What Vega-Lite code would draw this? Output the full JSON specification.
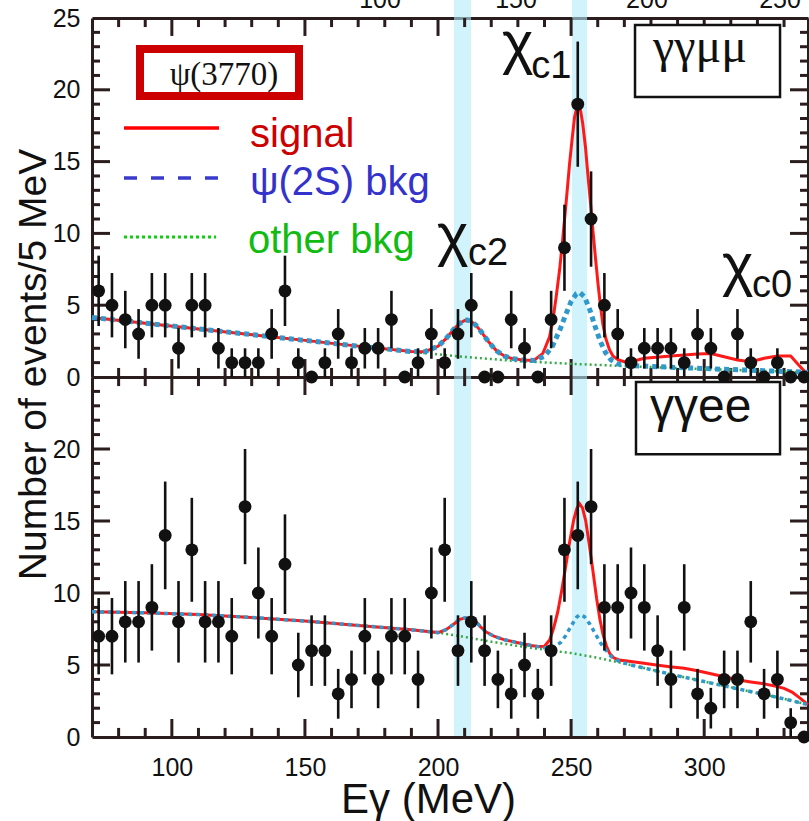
{
  "$schema": "https://vega.github.io/schema/vega-lite/v6.json",
  "width": 716,
  "height": 719,
  "autosize": {"type": "none"},
  "padding": {"left": 92, "top": 18, "right": 1, "bottom": 84},
  "background": "white",
  "config": {
    "view": {"stroke": null},
    "axis": {"grid": false, "ticks": false, "tickSize": 0, "domainColor": "#2b1d1d", "domainWidth": 3, "labelFont": "Liberation Sans", "labelFontSize": 25, "labelColor": "#111111", "labelOverlap": false, "labelFlush": false, "titleFont": "Liberation Sans", "titleFontWeight": "normal", "titleColor": "#111111"}
  },
  "datasets": {
    "bands": [{"a": 206.0, "b": 212.4}, {"a": 250.3, "b": 256.0}],
    "xmaj": [{"v": 100}, {"v": 150}, {"v": 200}, {"v": 250}, {"v": 300}],
    "xmin": [{"v": 80}, {"v": 90}, {"v": 110}, {"v": 120}, {"v": 130}, {"v": 140}, {"v": 160}, {"v": 170}, {"v": 180}, {"v": 190}, {"v": 210}, {"v": 220}, {"v": 230}, {"v": 240}, {"v": 260}, {"v": 270}, {"v": 280}, {"v": 290}, {"v": 310}, {"v": 320}, {"v": 330}],
    "ymaj": [{"v": 5}, {"v": 10}, {"v": 15}, {"v": 20}],
    "ymin": [{"v": 1}, {"v": 2}, {"v": 3}, {"v": 4}, {"v": 6}, {"v": 7}, {"v": 8}, {"v": 9}, {"v": 11}, {"v": 12}, {"v": 13}, {"v": 14}, {"v": 16}, {"v": 17}, {"v": 18}, {"v": 19}, {"v": 21}, {"v": 22}, {"v": 23}, {"v": 24}],
    "top": [
      {"E": 72.5, "n": 6, "lo": 3.55, "hi": 8.45}, {"E": 77.5, "n": 5, "lo": 2.76, "hi": 7.24}, {"E": 82.5, "n": 4, "lo": 2, "hi": 6}, {"E": 87.5, "n": 3, "lo": 1.27, "hi": 4.73},
      {"E": 92.5, "n": 5, "lo": 2.76, "hi": 7.24}, {"E": 97.5, "n": 5, "lo": 2.76, "hi": 7.24}, {"E": 102.5, "n": 2, "lo": 0.59, "hi": 3.41}, {"E": 107.5, "n": 5, "lo": 2.76, "hi": 7.24},
      {"E": 112.5, "n": 5, "lo": 2.76, "hi": 7.24}, {"E": 117.5, "n": 2, "lo": 0.59, "hi": 3.41}, {"E": 122.5, "n": 1, "lo": 0, "hi": 2}, {"E": 127.5, "n": 1, "lo": 0, "hi": 2},
      {"E": 132.5, "n": 1, "lo": 0, "hi": 2}, {"E": 137.5, "n": 3, "lo": 1.27, "hi": 4.73}, {"E": 142.5, "n": 6, "lo": 3.55, "hi": 8.45}, {"E": 147.5, "n": 1, "lo": 0, "hi": 2},
      {"E": 152.5, "n": 0, "lo": 0, "hi": 0}, {"E": 157.5, "n": 1, "lo": 0, "hi": 2}, {"E": 162.5, "n": 3, "lo": 1.27, "hi": 4.73}, {"E": 167.5, "n": 1, "lo": 0, "hi": 2},
      {"E": 172.5, "n": 2, "lo": 0.59, "hi": 3.41}, {"E": 177.5, "n": 2, "lo": 0.59, "hi": 3.41}, {"E": 182.5, "n": 4, "lo": 2, "hi": 6}, {"E": 187.5, "n": 0, "lo": 0, "hi": 0},
      {"E": 192.5, "n": 1, "lo": 0, "hi": 2}, {"E": 197.5, "n": 3, "lo": 1.27, "hi": 4.73}, {"E": 202.5, "n": 1, "lo": 0, "hi": 2}, {"E": 207.5, "n": 3, "lo": 1.27, "hi": 4.73},
      {"E": 212.5, "n": 5, "lo": 2.76, "hi": 7.24}, {"E": 217.5, "n": 0, "lo": 0, "hi": 0}, {"E": 222.5, "n": 0, "lo": 0, "hi": 0}, {"E": 227.5, "n": 4, "lo": 2, "hi": 6},
      {"E": 232.5, "n": 2, "lo": 0.59, "hi": 3.41}, {"E": 237.5, "n": 0, "lo": 0, "hi": 0}, {"E": 242.5, "n": 4, "lo": 2, "hi": 6}, {"E": 247.5, "n": 9, "lo": 6, "hi": 12},
      {"E": 252.5, "n": 19, "lo": 14.64, "hi": 23.36}, {"E": 257.5, "n": 11, "lo": 7.68, "hi": 14.32}, {"E": 262.5, "n": 5, "lo": 2.76, "hi": 7.24}, {"E": 267.5, "n": 3, "lo": 1.27, "hi": 4.73},
      {"E": 272.5, "n": 1, "lo": 0, "hi": 2}, {"E": 277.5, "n": 2, "lo": 0.59, "hi": 3.41}, {"E": 282.5, "n": 2, "lo": 0.59, "hi": 3.41}, {"E": 287.5, "n": 2, "lo": 0.59, "hi": 3.41},
      {"E": 292.5, "n": 1, "lo": 0, "hi": 2}, {"E": 297.5, "n": 3, "lo": 1.27, "hi": 4.73}, {"E": 302.5, "n": 2, "lo": 0.59, "hi": 3.41}, {"E": 307.5, "n": 0, "lo": 0, "hi": 0},
      {"E": 312.5, "n": 3, "lo": 1.27, "hi": 4.73}, {"E": 317.5, "n": 1, "lo": 0, "hi": 2}, {"E": 322.5, "n": 0, "lo": 0, "hi": 0}, {"E": 327.5, "n": 1, "lo": 0, "hi": 2},
      {"E": 332.5, "n": 0, "lo": 0, "hi": 0}, {"E": 337.5, "n": 0, "lo": 0, "hi": 0}
    ],
    "bot": [
      {"E": 72.5, "n": 7, "lo": 4.35, "hi": 9.65}, {"E": 77.5, "n": 7, "lo": 4.35, "hi": 9.65}, {"E": 82.5, "n": 8, "lo": 5.17, "hi": 10.83}, {"E": 87.5, "n": 8, "lo": 5.17, "hi": 10.83},
      {"E": 92.5, "n": 9, "lo": 6, "hi": 12}, {"E": 97.5, "n": 14, "lo": 10.26, "hi": 17.74}, {"E": 102.5, "n": 8, "lo": 5.17, "hi": 10.83}, {"E": 107.5, "n": 13, "lo": 9.39, "hi": 16.61},
      {"E": 112.5, "n": 8, "lo": 5.17, "hi": 10.83}, {"E": 117.5, "n": 8, "lo": 5.17, "hi": 10.83}, {"E": 122.5, "n": 7, "lo": 4.35, "hi": 9.65}, {"E": 127.5, "n": 16, "lo": 12, "hi": 20},
      {"E": 132.5, "n": 10, "lo": 6.84, "hi": 13.16}, {"E": 137.5, "n": 7, "lo": 4.35, "hi": 9.65}, {"E": 142.5, "n": 12, "lo": 8.54, "hi": 15.46}, {"E": 147.5, "n": 5, "lo": 2.76, "hi": 7.24},
      {"E": 152.5, "n": 6, "lo": 3.55, "hi": 8.45}, {"E": 157.5, "n": 6, "lo": 3.55, "hi": 8.45}, {"E": 162.5, "n": 3, "lo": 1.27, "hi": 4.73}, {"E": 167.5, "n": 4, "lo": 2, "hi": 6},
      {"E": 172.5, "n": 7, "lo": 4.35, "hi": 9.65}, {"E": 177.5, "n": 4, "lo": 2, "hi": 6}, {"E": 182.5, "n": 7, "lo": 4.35, "hi": 9.65}, {"E": 187.5, "n": 7, "lo": 4.35, "hi": 9.65},
      {"E": 192.5, "n": 4, "lo": 2, "hi": 6}, {"E": 197.5, "n": 10, "lo": 6.84, "hi": 13.16}, {"E": 202.5, "n": 13, "lo": 9.39, "hi": 16.61}, {"E": 207.5, "n": 6, "lo": 3.55, "hi": 8.45},
      {"E": 212.5, "n": 8, "lo": 5.17, "hi": 10.83}, {"E": 217.5, "n": 6, "lo": 3.55, "hi": 8.45}, {"E": 222.5, "n": 4, "lo": 2, "hi": 6}, {"E": 227.5, "n": 3, "lo": 1.27, "hi": 4.73},
      {"E": 232.5, "n": 5, "lo": 2.76, "hi": 7.24}, {"E": 237.5, "n": 3, "lo": 1.27, "hi": 4.73}, {"E": 242.5, "n": 6, "lo": 3.55, "hi": 8.45}, {"E": 247.5, "n": 13, "lo": 9.39, "hi": 16.61},
      {"E": 252.5, "n": 14, "lo": 10.26, "hi": 17.74}, {"E": 257.5, "n": 16, "lo": 12, "hi": 20}, {"E": 262.5, "n": 9, "lo": 6, "hi": 12}, {"E": 267.5, "n": 9, "lo": 6, "hi": 12},
      {"E": 272.5, "n": 10, "lo": 6.84, "hi": 13.16}, {"E": 277.5, "n": 9, "lo": 6, "hi": 12}, {"E": 282.5, "n": 6, "lo": 3.55, "hi": 8.45}, {"E": 287.5, "n": 4, "lo": 2, "hi": 6},
      {"E": 292.5, "n": 9, "lo": 6, "hi": 12}, {"E": 297.5, "n": 3, "lo": 1.27, "hi": 4.73}, {"E": 302.5, "n": 2, "lo": 0.59, "hi": 3.41}, {"E": 307.5, "n": 4, "lo": 2, "hi": 6},
      {"E": 312.5, "n": 4, "lo": 2, "hi": 6}, {"E": 317.5, "n": 8, "lo": 5.17, "hi": 10.83}, {"E": 322.5, "n": 3, "lo": 1.27, "hi": 4.73}, {"E": 327.5, "n": 4, "lo": 2, "hi": 6},
      {"E": 332.5, "n": 1, "lo": 0, "hi": 2}, {"E": 337.5, "n": 0, "lo": 0, "hi": 0}
    ],
    "ctop": [
      {"s": "oth", "E": 70, "v": 4.15}, {"s": "oth", "E": 90, "v": 3.75}, {"s": "oth", "E": 110, "v": 3.35}, {"s": "oth", "E": 130, "v": 2.95}, {"s": "oth", "E": 150, "v": 2.55}, {"s": "oth", "E": 170, "v": 2.15}, {"s": "oth", "E": 190, "v": 1.75}, {"s": "oth", "E": 210, "v": 1.4}, {"s": "oth", "E": 230, "v": 1.1}, {"s": "oth", "E": 250, "v": 0.92}, {"s": "oth", "E": 270, "v": 0.76}, {"s": "oth", "E": 290, "v": 0.62}, {"s": "oth", "E": 310, "v": 0.5}, {"s": "oth", "E": 339, "v": 0.32},
      {"s": "psi", "E": 70, "v": 4.15}, {"s": "psi", "E": 90, "v": 3.75}, {"s": "psi", "E": 110, "v": 3.35}, {"s": "psi", "E": 130, "v": 2.95}, {"s": "psi", "E": 150, "v": 2.55}, {"s": "psi", "E": 170, "v": 2.15}, {"s": "psi", "E": 190, "v": 1.77}, {"s": "psi", "E": 195, "v": 1.76}, {"s": "psi", "E": 200, "v": 2.14}, {"s": "psi", "E": 203, "v": 2.67}, {"s": "psi", "E": 206, "v": 3.34}, {"s": "psi", "E": 208, "v": 3.72}, {"s": "psi", "E": 210, "v": 3.94}, {"s": "psi", "E": 211, "v": 3.96}, {"s": "psi", "E": 212, "v": 3.92}, {"s": "psi", "E": 214, "v": 3.65}, {"s": "psi", "E": 216, "v": 3.21}, {"s": "psi", "E": 219, "v": 2.45}, {"s": "psi", "E": 222, "v": 1.82}, {"s": "psi", "E": 225, "v": 1.45}, {"s": "psi", "E": 228, "v": 1.28}, {"s": "psi", "E": 232, "v": 1.18}, {"s": "psi", "E": 236, "v": 1.15}, {"s": "psi", "E": 240, "v": 1.44}, {"s": "psi", "E": 243, "v": 2.15}, {"s": "psi", "E": 246, "v": 3.38}, {"s": "psi", "E": 248, "v": 4.36}, {"s": "psi", "E": 250, "v": 5.26}, {"s": "psi", "E": 252, "v": 5.8}, {"s": "psi", "E": 253.2, "v": 5.9}, {"s": "psi", "E": 255, "v": 5.59}, {"s": "psi", "E": 257, "v": 4.7}, {"s": "psi", "E": 259, "v": 3.53}, {"s": "psi", "E": 261, "v": 2.46}, {"s": "psi", "E": 263, "v": 1.68}, {"s": "psi", "E": 265, "v": 1.19}, {"s": "psi", "E": 268, "v": 0.88}, {"s": "psi", "E": 272, "v": 0.8}, {"s": "psi", "E": 290, "v": 0.66}, {"s": "psi", "E": 310, "v": 0.52}, {"s": "psi", "E": 339, "v": 0.33},
      {"s": "sig", "E": 70, "v": 4.15}, {"s": "sig", "E": 90, "v": 3.75}, {"s": "sig", "E": 110, "v": 3.35}, {"s": "sig", "E": 130, "v": 2.95}, {"s": "sig", "E": 150, "v": 2.55}, {"s": "sig", "E": 170, "v": 2.15}, {"s": "sig", "E": 190, "v": 1.77}, {"s": "sig", "E": 195, "v": 1.76}, {"s": "sig", "E": 200, "v": 2.14}, {"s": "sig", "E": 203, "v": 2.67}, {"s": "sig", "E": 206, "v": 3.34}, {"s": "sig", "E": 208, "v": 3.72}, {"s": "sig", "E": 210, "v": 3.94}, {"s": "sig", "E": 211, "v": 3.96}, {"s": "sig", "E": 212, "v": 3.92}, {"s": "sig", "E": 214, "v": 3.65}, {"s": "sig", "E": 216, "v": 3.21}, {"s": "sig", "E": 219, "v": 2.45}, {"s": "sig", "E": 222, "v": 1.82}, {"s": "sig", "E": 225, "v": 1.45}, {"s": "sig", "E": 228, "v": 1.28}, {"s": "sig", "E": 232, "v": 1.18}, {"s": "sig", "E": 236, "v": 1.15},
      {"s": "sig", "E": 239.4, "v": 1.65}, {"s": "sig", "E": 241.9, "v": 2.8}, {"s": "sig", "E": 243.2, "v": 4.0}, {"s": "sig", "E": 244.4, "v": 5.6}, {"s": "sig", "E": 245.7, "v": 7.5}, {"s": "sig", "E": 246.9, "v": 9.7}, {"s": "sig", "E": 248.2, "v": 12.3}, {"s": "sig", "E": 249.4, "v": 14.8}, {"s": "sig", "E": 250.4, "v": 16.6}, {"s": "sig", "E": 251.3, "v": 18.1}, {"s": "sig", "E": 252.1, "v": 18.7}, {"s": "sig", "E": 252.9, "v": 18.9}, {"s": "sig", "E": 253.6, "v": 18.5}, {"s": "sig", "E": 254.4, "v": 17.6}, {"s": "sig", "E": 255.4, "v": 16.0}, {"s": "sig", "E": 256.3, "v": 14.1}, {"s": "sig", "E": 257.3, "v": 12.1}, {"s": "sig", "E": 258.2, "v": 10.2}, {"s": "sig", "E": 259.2, "v": 8.2}, {"s": "sig", "E": 260.1, "v": 6.5}, {"s": "sig", "E": 261.0, "v": 5.0}, {"s": "sig", "E": 261.9, "v": 3.7}, {"s": "sig", "E": 263.0, "v": 2.7}, {"s": "sig", "E": 264.4, "v": 1.9}, {"s": "sig", "E": 265.8, "v": 1.45}, {"s": "sig", "E": 267.6, "v": 1.2}, {"s": "sig", "E": 270, "v": 1.06}, {"s": "sig", "E": 272.5, "v": 1.06}, {"s": "sig", "E": 277.5, "v": 1.3}, {"s": "sig", "E": 287.5, "v": 1.46}, {"s": "sig", "E": 297.5, "v": 1.6}, {"s": "sig", "E": 302.5, "v": 1.64}, {"s": "sig", "E": 307.5, "v": 1.41}, {"s": "sig", "E": 312.5, "v": 1.18}, {"s": "sig", "E": 317.5, "v": 1.06}, {"s": "sig", "E": 322.5, "v": 1.3}, {"s": "sig", "E": 327.5, "v": 1.46}, {"s": "sig", "E": 332.5, "v": 1.46}, {"s": "sig", "E": 335.5, "v": 0.83}, {"s": "sig", "E": 339, "v": 0.14}
    ],
    "cbot": [
      {"s": "oth", "E": 70, "v": 8.7}, {"s": "oth", "E": 90, "v": 8.62}, {"s": "oth", "E": 110, "v": 8.5}, {"s": "oth", "E": 130, "v": 8.3}, {"s": "oth", "E": 150, "v": 8.05}, {"s": "oth", "E": 170, "v": 7.75}, {"s": "oth", "E": 190, "v": 7.45}, {"s": "oth", "E": 200, "v": 7.25}, {"s": "oth", "E": 210, "v": 6.95}, {"s": "oth", "E": 220, "v": 6.62}, {"s": "oth", "E": 230, "v": 6.32}, {"s": "oth", "E": 240, "v": 6.06}, {"s": "oth", "E": 250, "v": 5.83}, {"s": "oth", "E": 260, "v": 5.5}, {"s": "oth", "E": 270, "v": 5.1}, {"s": "oth", "E": 280, "v": 4.68}, {"s": "oth", "E": 290, "v": 4.25}, {"s": "oth", "E": 300, "v": 3.85}, {"s": "oth", "E": 310, "v": 3.45}, {"s": "oth", "E": 320, "v": 3.05}, {"s": "oth", "E": 330, "v": 2.65}, {"s": "oth", "E": 339, "v": 2.25},
      {"s": "psi", "E": 70, "v": 8.7}, {"s": "psi", "E": 90, "v": 8.62}, {"s": "psi", "E": 110, "v": 8.5}, {"s": "psi", "E": 130, "v": 8.3}, {"s": "psi", "E": 150, "v": 8.05}, {"s": "psi", "E": 170, "v": 7.75}, {"s": "psi", "E": 190, "v": 7.45}, {"s": "psi", "E": 200, "v": 7.25}, {"s": "psi", "E": 203, "v": 7.45}, {"s": "psi", "E": 206, "v": 7.85}, {"s": "psi", "E": 208, "v": 8.15}, {"s": "psi", "E": 210, "v": 8.27}, {"s": "psi", "E": 212, "v": 8.27}, {"s": "psi", "E": 214, "v": 8.05}, {"s": "psi", "E": 216, "v": 7.65}, {"s": "psi", "E": 218, "v": 7.3}, {"s": "psi", "E": 221, "v": 7.0}, {"s": "psi", "E": 225, "v": 6.75}, {"s": "psi", "E": 230, "v": 6.55}, {"s": "psi", "E": 235, "v": 6.35}, {"s": "psi", "E": 240, "v": 6.2}, {"s": "psi", "E": 243, "v": 6.2}, {"s": "psi", "E": 246, "v": 6.55}, {"s": "psi", "E": 248, "v": 7.05}, {"s": "psi", "E": 250, "v": 7.7}, {"s": "psi", "E": 252, "v": 8.3}, {"s": "psi", "E": 253.2, "v": 8.5}, {"s": "psi", "E": 255, "v": 8.35}, {"s": "psi", "E": 257, "v": 7.85}, {"s": "psi", "E": 259, "v": 7.2}, {"s": "psi", "E": 261, "v": 6.55}, {"s": "psi", "E": 263, "v": 6.05}, {"s": "psi", "E": 265, "v": 5.6}, {"s": "psi", "E": 268, "v": 5.25}, {"s": "psi", "E": 272, "v": 5.02}, {"s": "psi", "E": 280, "v": 4.68}, {"s": "psi", "E": 290, "v": 4.25}, {"s": "psi", "E": 300, "v": 3.85}, {"s": "psi", "E": 310, "v": 3.45}, {"s": "psi", "E": 320, "v": 3.05}, {"s": "psi", "E": 330, "v": 2.65}, {"s": "psi", "E": 339, "v": 2.25},
      {"s": "sig", "E": 70, "v": 8.7}, {"s": "sig", "E": 90, "v": 8.62}, {"s": "sig", "E": 110, "v": 8.5}, {"s": "sig", "E": 130, "v": 8.3}, {"s": "sig", "E": 150, "v": 8.05}, {"s": "sig", "E": 170, "v": 7.75}, {"s": "sig", "E": 190, "v": 7.45}, {"s": "sig", "E": 200, "v": 7.25}, {"s": "sig", "E": 203, "v": 7.45}, {"s": "sig", "E": 206, "v": 7.85}, {"s": "sig", "E": 208, "v": 8.15}, {"s": "sig", "E": 210, "v": 8.27}, {"s": "sig", "E": 212, "v": 8.27}, {"s": "sig", "E": 214, "v": 8.05}, {"s": "sig", "E": 216, "v": 7.65}, {"s": "sig", "E": 218, "v": 7.3}, {"s": "sig", "E": 221, "v": 7.0}, {"s": "sig", "E": 225, "v": 6.75}, {"s": "sig", "E": 230, "v": 6.55}, {"s": "sig", "E": 235, "v": 6.35},
      {"s": "sig", "E": 237.5, "v": 6.28}, {"s": "sig", "E": 240, "v": 6.3}, {"s": "sig", "E": 242, "v": 6.75}, {"s": "sig", "E": 243.5, "v": 7.6}, {"s": "sig", "E": 245, "v": 8.7}, {"s": "sig", "E": 246.5, "v": 10.2}, {"s": "sig", "E": 248, "v": 11.9}, {"s": "sig", "E": 249.5, "v": 13.6}, {"s": "sig", "E": 251, "v": 15.1}, {"s": "sig", "E": 252.2, "v": 15.9}, {"s": "sig", "E": 253.2, "v": 16.2}, {"s": "sig", "E": 254.3, "v": 15.9}, {"s": "sig", "E": 255.5, "v": 15.0}, {"s": "sig", "E": 256.8, "v": 13.4}, {"s": "sig", "E": 258.3, "v": 11.4}, {"s": "sig", "E": 259.6, "v": 9.6}, {"s": "sig", "E": 260.8, "v": 8.2}, {"s": "sig", "E": 262, "v": 7.1}, {"s": "sig", "E": 263.3, "v": 6.3}, {"s": "sig", "E": 264.5, "v": 5.8}, {"s": "sig", "E": 266, "v": 5.5}, {"s": "sig", "E": 268, "v": 5.35}, {"s": "sig", "E": 271, "v": 5.28}, {"s": "sig", "E": 276, "v": 5.15}, {"s": "sig", "E": 282, "v": 5.0}, {"s": "sig", "E": 287, "v": 4.88}, {"s": "sig", "E": 292.5, "v": 4.78}, {"s": "sig", "E": 297.5, "v": 4.6}, {"s": "sig", "E": 302.5, "v": 4.39}, {"s": "sig", "E": 307.5, "v": 4.18}, {"s": "sig", "E": 312.5, "v": 3.97}, {"s": "sig", "E": 317.5, "v": 3.82}, {"s": "sig", "E": 322.5, "v": 3.69}, {"s": "sig", "E": 327, "v": 3.52}, {"s": "sig", "E": 330, "v": 3.38}, {"s": "sig", "E": 333, "v": 3.12}, {"s": "sig", "E": 336, "v": 2.7}, {"s": "sig", "E": 339, "v": 2.25}
    ]
  },
  "layer": [
    {
      "layer": [
        {"data": {"name": "bands"}, "mark": {"type": "rect", "fill": "#b3ebf9", "opacity": 0.6},
         "encoding": {"x": {"field": "a", "type": "quantitative", "scale": {"domain": [70, 339], "nice": false, "zero": false}, "axis": null}, "x2": {"field": "b"},
                      "y": {"datum": -25, "type": "quantitative", "scale": {"domain": [0, 25], "range": [359, 0], "nice": false, "zero": false}, "axis": null}, "y2": {"datum": 26.3}}},
        {"data": {"name": "xmaj"}, "mark": {"type": "rule", "stroke": "#2b1d1d", "strokeWidth": 3},
         "encoding": {"x": {"field": "v", "type": "quantitative", "scale": {"domain": [70, 339], "nice": false, "zero": false}, "axis": null},
                      "y": {"datum": 25, "type": "quantitative", "scale": {"domain": [0, 25], "range": [359, 0], "nice": false, "zero": false}, "axis": null}, "y2": {"datum": 23.75}}},
        {"data": {"name": "xmin"}, "mark": {"type": "rule", "stroke": "#2b1d1d", "strokeWidth": 3},
         "encoding": {"x": {"field": "v", "type": "quantitative", "scale": {"domain": [70, 339], "nice": false, "zero": false}, "axis": null},
                      "y": {"datum": 25, "type": "quantitative", "scale": {"domain": [0, 25], "range": [359, 0], "nice": false, "zero": false}, "axis": null}, "y2": {"datum": 24.37}}},
        {"data": {"name": "xmaj"}, "mark": {"type": "rule", "stroke": "#2b1d1d", "strokeWidth": 3},
         "encoding": {"x": {"field": "v", "type": "quantitative", "scale": {"domain": [70, 339], "nice": false, "zero": false}, "axis": null},
                      "y": {"datum": 0, "type": "quantitative", "scale": {"domain": [0, 25], "range": [359, 0], "nice": false, "zero": false}, "axis": null}, "y2": {"datum": 1.25}}},
        {"data": {"name": "xmin"}, "mark": {"type": "rule", "stroke": "#2b1d1d", "strokeWidth": 3},
         "encoding": {"x": {"field": "v", "type": "quantitative", "scale": {"domain": [70, 339], "nice": false, "zero": false}, "axis": null},
                      "y": {"datum": 0, "type": "quantitative", "scale": {"domain": [0, 25], "range": [359, 0], "nice": false, "zero": false}, "axis": null}, "y2": {"datum": 0.63}}},
        {"data": {"name": "ymaj"}, "mark": {"type": "rule", "stroke": "#2b1d1d", "strokeWidth": 3},
         "encoding": {"x": {"datum": 70, "type": "quantitative", "scale": {"domain": [70, 339], "nice": false, "zero": false}, "axis": null}, "x2": {"datum": 76.76},
                      "y": {"field": "v", "type": "quantitative", "scale": {"domain": [0, 25], "range": [359, 0], "nice": false, "zero": false}, "axis": null}}},
        {"data": {"name": "ymin"}, "mark": {"type": "rule", "stroke": "#2b1d1d", "strokeWidth": 3},
         "encoding": {"x": {"datum": 70, "type": "quantitative", "scale": {"domain": [70, 339], "nice": false, "zero": false}, "axis": null}, "x2": {"datum": 73.0},
                      "y": {"field": "v", "type": "quantitative", "scale": {"domain": [0, 25], "range": [359, 0], "nice": false, "zero": false}, "axis": null}}},
        {"data": {"name": "ymaj"}, "mark": {"type": "rule", "stroke": "#2b1d1d", "strokeWidth": 3},
         "encoding": {"x": {"datum": 339, "type": "quantitative", "scale": {"domain": [70, 339], "nice": false, "zero": false}, "axis": null}, "x2": {"datum": 332.24},
                      "y": {"field": "v", "type": "quantitative", "scale": {"domain": [0, 25], "range": [359, 0], "nice": false, "zero": false}, "axis": null}}},
        {"data": {"name": "ymin"}, "mark": {"type": "rule", "stroke": "#2b1d1d", "strokeWidth": 3},
         "encoding": {"x": {"datum": 339, "type": "quantitative", "scale": {"domain": [70, 339], "nice": false, "zero": false}, "axis": null}, "x2": {"datum": 336.0},
                      "y": {"field": "v", "type": "quantitative", "scale": {"domain": [0, 25], "range": [359, 0], "nice": false, "zero": false}, "axis": null}}},
        {"data": {"name": "ctop"}, "transform": [{"filter": "datum.s === 'oth'"}], "mark": {"type": "line", "stroke": "#33aa44", "strokeWidth": 2.5, "strokeDash": [2, 3]},
         "encoding": {"x": {"field": "E", "type": "quantitative", "scale": {"domain": [70, 339], "nice": false, "zero": false},
                            "axis": {"orient": "bottom", "offset": -719, "labels": false, "title": null, "domain": true}},
                      "y": {"field": "v", "type": "quantitative", "scale": {"domain": [0, 25], "range": [359, 0], "nice": false, "zero": false},
                            "axis": {"orient": "left", "values": [0, 5, 10, 15, 20, 25], "domain": false, "labelPadding": 12, "title": null}}}},
        {"data": {"name": "ctop"}, "transform": [{"filter": "datum.s === 'sig'"}], "mark": {"type": "line", "stroke": "#ff1a1a", "strokeWidth": 3},
         "encoding": {"x": {"field": "E", "type": "quantitative", "scale": {"domain": [70, 339], "nice": false, "zero": false},
                            "axis": {"orient": "top", "offset": -359, "labels": false, "title": null, "domain": true}},
                      "y": {"field": "v", "type": "quantitative", "scale": {"domain": [0, 25], "range": [359, 0], "nice": false, "zero": false},
                            "axis": {"orient": "right", "offset": -716, "labels": false, "title": null, "domain": true}}}},
        {"data": {"name": "ctop"}, "transform": [{"filter": "datum.s === 'psi'"}], "mark": {"type": "line", "stroke": "#2f98cc", "strokeWidth": 5, "strokeDash": [5, 4]},
         "encoding": {"x": {"field": "E", "type": "quantitative", "scale": {"domain": [70, 339], "nice": false, "zero": false}, "axis": null},
                      "y": {"field": "v", "type": "quantitative", "scale": {"domain": [0, 25], "range": [359, 0], "nice": false, "zero": false},
                            "axis": {"orient": "left", "offset": -716, "labels": false, "title": null, "domain": true}}}},
        {"data": {"name": "top"}, "mark": {"type": "rule", "stroke": "#111111", "strokeWidth": 2.6},
         "encoding": {"x": {"field": "E", "type": "quantitative", "scale": {"domain": [70, 339], "nice": false, "zero": false}, "axis": null},
                      "y": {"field": "lo", "type": "quantitative", "scale": {"domain": [0, 25], "range": [359, 0], "nice": false, "zero": false}, "axis": null}, "y2": {"field": "hi"}}},
        {"data": {"name": "top"}, "mark": {"type": "circle", "color": "#111111", "opacity": 1, "size": 165},
         "encoding": {"x": {"field": "E", "type": "quantitative", "scale": {"domain": [70, 339], "nice": false, "zero": false}, "axis": null},
                      "y": {"field": "n", "type": "quantitative", "scale": {"domain": [0, 25], "range": [359, 0], "nice": false, "zero": false}, "axis": null}}},
        {"data": {"values": [{"E": 88.03, "E2": 147.77, "v": 22.84, "v2": 19.57}]}, "mark": {"type": "rect", "fill": "white", "stroke": "#cc0000", "strokeWidth": 8},
         "encoding": {"x": {"field": "E", "type": "quantitative", "scale": {"domain": [70, 339], "nice": false, "zero": false}, "axis": null}, "x2": {"field": "E2"},
                      "y": {"field": "v", "type": "quantitative", "scale": {"domain": [0, 25], "range": [359, 0], "nice": false, "zero": false}, "axis": null}, "y2": {"field": "v2"}}},
        {"data": {"values": [{"E": 274.01, "E2": 328.49, "v": 24.51, "v2": 19.5}]}, "mark": {"type": "rect", "fill": "white", "stroke": "#111111", "strokeWidth": 2.5},
         "encoding": {"x": {"field": "E", "type": "quantitative", "scale": {"domain": [70, 339], "nice": false, "zero": false}, "axis": null}, "x2": {"field": "E2"},
                      "y": {"field": "v", "type": "quantitative", "scale": {"domain": [0, 25], "range": [359, 0], "nice": false, "zero": false}, "axis": null}, "y2": {"field": "v2"}}},
        {"data": {"values": [{"E": 119.59, "v": 20.33, "t": "ψ(3770)"}]}, "mark": {"type": "text", "font": "Liberation Serif", "fontSize": 33, "align": "center", "baseline": "alphabetic", "color": "#111111"},
         "encoding": {"x": {"field": "E", "type": "quantitative", "scale": {"domain": [70, 339], "nice": false, "zero": false}, "axis": null},
                      "y": {"field": "v", "type": "quantitative", "scale": {"domain": [0, 25], "range": [359, 0], "nice": false, "zero": false}, "axis": null}, "text": {"field": "t"}}},
        {"data": {"values": [{"E": 280.77, "v": 21.94, "t": "γγμμ"}]}, "mark": {"type": "text", "font": "Liberation Serif", "fontSize": 48, "align": "left", "baseline": "alphabetic", "color": "#111111"},
         "encoding": {"x": {"field": "E", "type": "quantitative", "scale": {"domain": [70, 339], "nice": false, "zero": false}, "axis": null},
                      "y": {"field": "v", "type": "quantitative", "scale": {"domain": [0, 25], "range": [359, 0], "nice": false, "zero": false}, "axis": null}, "text": {"field": "t"}}},
        {"data": {"values": [{"E": 82.02, "E2": 117.71, "v": 17.34}]}, "mark": {"type": "rule", "stroke": "#ff0000", "strokeWidth": 3.5},
         "encoding": {"x": {"field": "E", "type": "quantitative", "scale": {"domain": [70, 339], "nice": false, "zero": false}, "axis": null}, "x2": {"field": "E2"},
                      "y": {"field": "v", "type": "quantitative", "scale": {"domain": [0, 25], "range": [359, 0], "nice": false, "zero": false}, "axis": null}}},
        {"data": {"values": [{"E": 82.02, "E2": 117.71, "v": 13.86}]}, "mark": {"type": "rule", "stroke": "#3a3acc", "strokeWidth": 3.5, "strokeDash": [13, 14]},
         "encoding": {"x": {"field": "E", "type": "quantitative", "scale": {"domain": [70, 339], "nice": false, "zero": false}, "axis": null}, "x2": {"field": "E2"},
                      "y": {"field": "v", "type": "quantitative", "scale": {"domain": [0, 25], "range": [359, 0], "nice": false, "zero": false}, "axis": null}}},
        {"data": {"values": [{"E": 82.02, "E2": 116.6, "v": 9.75}]}, "mark": {"type": "rule", "stroke": "#11cc11", "strokeWidth": 3, "strokeDash": [3, 3]},
         "encoding": {"x": {"field": "E", "type": "quantitative", "scale": {"domain": [70, 339], "nice": false, "zero": false}, "axis": null}, "x2": {"field": "E2"},
                      "y": {"field": "v", "type": "quantitative", "scale": {"domain": [0, 25], "range": [359, 0], "nice": false, "zero": false}, "axis": null}}},
        {"data": {"values": [{"E": 129.36, "v": 16.02, "t": "signal"}]}, "mark": {"type": "text", "font": "Liberation Sans", "fontSize": 40, "align": "left", "baseline": "alphabetic", "color": "#cc0000"},
         "encoding": {"x": {"field": "E", "type": "quantitative", "scale": {"domain": [70, 339], "nice": false, "zero": false}, "axis": null},
                      "y": {"field": "v", "type": "quantitative", "scale": {"domain": [0, 25], "range": [359, 0], "nice": false, "zero": false}, "axis": null}, "text": {"field": "t"}}},
        {"data": {"values": [{"E": 129.36, "v": 12.67, "t": "ψ(2S) bkg"}]}, "mark": {"type": "text", "font": "Liberation Sans", "fontSize": 40, "align": "left", "baseline": "alphabetic", "color": "#3333cc"},
         "encoding": {"x": {"field": "E", "type": "quantitative", "scale": {"domain": [70, 339], "nice": false, "zero": false}, "axis": null},
                      "y": {"field": "v", "type": "quantitative", "scale": {"domain": [0, 25], "range": [359, 0], "nice": false, "zero": false}, "axis": null}, "text": {"field": "t"}}},
        {"data": {"values": [{"E": 128.61, "v": 8.63, "t": "other bkg"}]}, "mark": {"type": "text", "font": "Liberation Sans", "fontSize": 40, "align": "left", "baseline": "alphabetic", "color": "#11bb11"},
         "encoding": {"x": {"field": "E", "type": "quantitative", "scale": {"domain": [70, 339], "nice": false, "zero": false}, "axis": null},
                      "y": {"field": "v", "type": "quantitative", "scale": {"domain": [0, 25], "range": [359, 0], "nice": false, "zero": false}, "axis": null}, "text": {"field": "t"}}},
        {"data": {"values": [{"E": 224.0, "v": 21.87, "t": "χ"}, {"E": 199.6, "v": 8.5, "t": "χ"}, {"E": 306.7, "v": 6.41, "t": "χ"}]}, "mark": {"type": "text", "font": "Liberation Sans", "fontSize": 60, "align": "left", "baseline": "alphabetic", "color": "#111111"},
         "encoding": {"x": {"field": "E", "type": "quantitative", "scale": {"domain": [70, 339], "nice": false, "zero": false}, "axis": null},
                      "y": {"field": "v", "type": "quantitative", "scale": {"domain": [0, 25], "range": [359, 0], "nice": false, "zero": false}, "axis": null}, "text": {"field": "t"}}},
        {"data": {"values": [{"E": 235.0, "v": 20.82, "t": "c1"}, {"E": 211.3, "v": 7.8, "t": "c2"}, {"E": 318.0, "v": 5.57, "t": "c0"}]}, "mark": {"type": "text", "font": "Liberation Sans", "fontSize": 38, "align": "left", "baseline": "alphabetic", "color": "#111111"},
         "encoding": {"x": {"field": "E", "type": "quantitative", "scale": {"domain": [70, 339], "nice": false, "zero": false}, "axis": null},
                      "y": {"field": "v", "type": "quantitative", "scale": {"domain": [0, 25], "range": [359, 0], "nice": false, "zero": false}, "axis": null}, "text": {"field": "t"}}},
        {"data": {"values": [{"E": 178.2, "v": 25.7, "t": "100"}, {"E": 229.3, "v": 25.7, "t": "150"}, {"E": 278.5, "v": 25.7, "t": "200"}, {"E": 328.5, "v": 25.7, "t": "250"}]}, "mark": {"type": "text", "font": "Liberation Sans", "fontSize": 25, "align": "center", "baseline": "alphabetic", "color": "#111111"},
         "encoding": {"x": {"field": "E", "type": "quantitative", "scale": {"domain": [70, 339], "nice": false, "zero": false}, "axis": null},
                      "y": {"field": "v", "type": "quantitative", "scale": {"domain": [0, 25], "range": [359, 0], "nice": false, "zero": false}, "axis": null}, "text": {"field": "t"}}}
      ],
      "resolve": {"axis": {"x": "independent", "y": "independent"}}
    },
    {
      "layer": [
        {"data": {"name": "xmaj"}, "mark": {"type": "rule", "stroke": "#2b1d1d", "strokeWidth": 3},
         "encoding": {"x": {"field": "v", "type": "quantitative", "scale": {"domain": [70, 339], "nice": false, "zero": false}, "axis": null},
                      "y": {"datum": 25, "type": "quantitative", "scale": {"domain": [0, 25], "range": [719, 359], "nice": false, "zero": false}, "axis": null}, "y2": {"datum": 23.75}}},
        {"data": {"name": "xmin"}, "mark": {"type": "rule", "stroke": "#2b1d1d", "strokeWidth": 3},
         "encoding": {"x": {"field": "v", "type": "quantitative", "scale": {"domain": [70, 339], "nice": false, "zero": false}, "axis": null},
                      "y": {"datum": 25, "type": "quantitative", "scale": {"domain": [0, 25], "range": [719, 359], "nice": false, "zero": false}, "axis": null}, "y2": {"datum": 24.37}}},
        {"data": {"name": "xmaj"}, "mark": {"type": "rule", "stroke": "#2b1d1d", "strokeWidth": 3},
         "encoding": {"x": {"field": "v", "type": "quantitative", "scale": {"domain": [70, 339], "nice": false, "zero": false}, "axis": null},
                      "y": {"datum": 0, "type": "quantitative", "scale": {"domain": [0, 25], "range": [719, 359], "nice": false, "zero": false}, "axis": null}, "y2": {"datum": 1.25}}},
        {"data": {"name": "xmin"}, "mark": {"type": "rule", "stroke": "#2b1d1d", "strokeWidth": 3},
         "encoding": {"x": {"field": "v", "type": "quantitative", "scale": {"domain": [70, 339], "nice": false, "zero": false}, "axis": null},
                      "y": {"datum": 0, "type": "quantitative", "scale": {"domain": [0, 25], "range": [719, 359], "nice": false, "zero": false}, "axis": null}, "y2": {"datum": 0.63}}},
        {"data": {"name": "ymaj"}, "mark": {"type": "rule", "stroke": "#2b1d1d", "strokeWidth": 3},
         "encoding": {"x": {"datum": 70, "type": "quantitative", "scale": {"domain": [70, 339], "nice": false, "zero": false}, "axis": null}, "x2": {"datum": 76.76},
                      "y": {"field": "v", "type": "quantitative", "scale": {"domain": [0, 25], "range": [719, 359], "nice": false, "zero": false}, "axis": null}}},
        {"data": {"name": "ymin"}, "mark": {"type": "rule", "stroke": "#2b1d1d", "strokeWidth": 3},
         "encoding": {"x": {"datum": 70, "type": "quantitative", "scale": {"domain": [70, 339], "nice": false, "zero": false}, "axis": null}, "x2": {"datum": 73.0},
                      "y": {"field": "v", "type": "quantitative", "scale": {"domain": [0, 25], "range": [719, 359], "nice": false, "zero": false}, "axis": null}}},
        {"data": {"name": "ymaj"}, "mark": {"type": "rule", "stroke": "#2b1d1d", "strokeWidth": 3},
         "encoding": {"x": {"datum": 339, "type": "quantitative", "scale": {"domain": [70, 339], "nice": false, "zero": false}, "axis": null}, "x2": {"datum": 332.24},
                      "y": {"field": "v", "type": "quantitative", "scale": {"domain": [0, 25], "range": [719, 359], "nice": false, "zero": false}, "axis": null}}},
        {"data": {"name": "ymin"}, "mark": {"type": "rule", "stroke": "#2b1d1d", "strokeWidth": 3},
         "encoding": {"x": {"datum": 339, "type": "quantitative", "scale": {"domain": [70, 339], "nice": false, "zero": false}, "axis": null}, "x2": {"datum": 336.0},
                      "y": {"field": "v", "type": "quantitative", "scale": {"domain": [0, 25], "range": [719, 359], "nice": false, "zero": false}, "axis": null}}},
        {"data": {"name": "cbot"}, "transform": [{"filter": "datum.s === 'oth'"}], "mark": {"type": "line", "stroke": "#33aa44", "strokeWidth": 2.5, "strokeDash": [2, 3]},
         "encoding": {"x": {"field": "E", "type": "quantitative", "scale": {"domain": [70, 339], "nice": false, "zero": false},
                            "axis": {"orient": "bottom", "values": [100, 150, 200, 250, 300], "domain": false, "labelPadding": 18, "title": "Eγ (MeV)", "titleFontSize": 42, "titleX": 336, "titleY": 75, "titleAlign": "center", "titleBaseline": "alphabetic"}},
                      "y": {"field": "v", "type": "quantitative", "scale": {"domain": [0, 25], "range": [719, 359], "nice": false, "zero": false},
                            "axis": {"orient": "left", "values": [0, 5, 10, 15, 20], "domain": false, "labelPadding": 12, "title": "Number of events/5 MeV", "titleFontSize": 39, "titleAngle": 270, "titleX": -47, "titleY": 346, "titleAlign": "center", "titleBaseline": "alphabetic"}}}},
        {"data": {"name": "cbot"}, "transform": [{"filter": "datum.s === 'sig'"}], "mark": {"type": "line", "stroke": "#ff1a1a", "strokeWidth": 3},
         "encoding": {"x": {"field": "E", "type": "quantitative", "scale": {"domain": [70, 339], "nice": false, "zero": false},
                            "axis": {"orient": "top", "offset": -719, "labels": false, "title": null, "domain": true}},
                      "y": {"field": "v", "type": "quantitative", "scale": {"domain": [0, 25], "range": [719, 359], "nice": false, "zero": false},
                            "axis": {"orient": "right", "offset": -716, "labels": false, "title": null, "domain": true}}}},
        {"data": {"name": "cbot"}, "transform": [{"filter": "datum.s === 'psi'"}], "mark": {"type": "line", "stroke": "#2f98cc", "strokeWidth": 3.5, "strokeDash": [4, 4]},
         "encoding": {"x": {"field": "E", "type": "quantitative", "scale": {"domain": [70, 339], "nice": false, "zero": false},
                            "axis": {"orient": "bottom", "offset": -360, "labels": false, "title": null, "domain": true}},
                      "y": {"field": "v", "type": "quantitative", "scale": {"domain": [0, 25], "range": [719, 359], "nice": false, "zero": false},
                            "axis": {"orient": "left", "offset": -716, "labels": false, "title": null, "domain": true}}}},
        {"data": {"name": "bot"}, "mark": {"type": "rule", "stroke": "#111111", "strokeWidth": 2.6},
         "encoding": {"x": {"field": "E", "type": "quantitative", "scale": {"domain": [70, 339], "nice": false, "zero": false}, "axis": null},
                      "y": {"field": "lo", "type": "quantitative", "scale": {"domain": [0, 25], "range": [719, 359], "nice": false, "zero": false}, "axis": null}, "y2": {"field": "hi"}}},
        {"data": {"name": "bot"}, "mark": {"type": "circle", "color": "#111111", "opacity": 1, "size": 165},
         "encoding": {"x": {"field": "E", "type": "quantitative", "scale": {"domain": [70, 339], "nice": false, "zero": false}, "axis": null},
                      "y": {"field": "n", "type": "quantitative", "scale": {"domain": [0, 25], "range": [719, 359], "nice": false, "zero": false}, "axis": null}}},
        {"data": {"values": [{"E": 274.38, "E2": 328.49, "v": 24.65, "v2": 19.64}]}, "mark": {"type": "rect", "fill": "white", "stroke": "#111111", "strokeWidth": 2.5},
         "encoding": {"x": {"field": "E", "type": "quantitative", "scale": {"domain": [70, 339], "nice": false, "zero": false}, "axis": null}, "x2": {"field": "E2"},
                      "y": {"field": "v", "type": "quantitative", "scale": {"domain": [0, 25], "range": [719, 359], "nice": false, "zero": false}, "axis": null}, "y2": {"field": "v2"}}},
        {"data": {"values": [{"E": 279.64, "v": 21.87, "t": "γγee"}]}, "mark": {"type": "text", "font": "Liberation Sans", "fontSize": 48, "align": "left", "baseline": "alphabetic", "color": "#111111"},
         "encoding": {"x": {"field": "E", "type": "quantitative", "scale": {"domain": [70, 339], "nice": false, "zero": false}, "axis": null},
                      "y": {"field": "v", "type": "quantitative", "scale": {"domain": [0, 25], "range": [719, 359], "nice": false, "zero": false}, "axis": null}, "text": {"field": "t"}}}
      ],
      "resolve": {"axis": {"x": "independent", "y": "independent"}}
    }
  ],
  "resolve": {"scale": {"y": "independent"}, "axis": {"x": "independent", "y": "independent"}}
}
